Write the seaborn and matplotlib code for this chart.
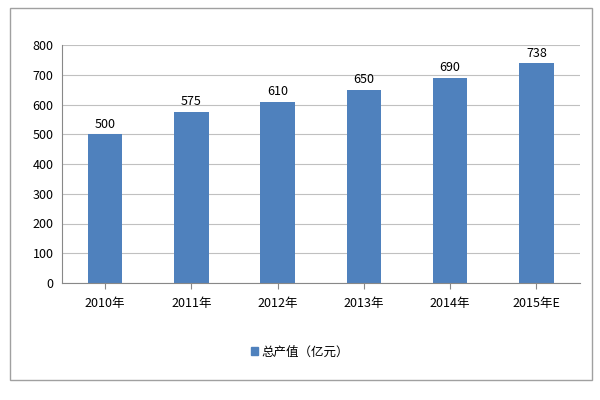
import matplotlib
matplotlib.use("Agg")
import matplotlib.pyplot as plt
import seaborn as sns
import pandas as pd
from matplotlib.patches import Rectangle

plt.rcParams["font.family"] = ["Noto Sans CJK SC", "DejaVu Sans"]

years = ["2010年", "2011年", "2012年", "2013年", "2014年", "2015年E"]
values = [500, 575, 610, 650, 690, 738]
series_name = "总产值（亿元）"

df = pd.DataFrame({"year": years, "value": values, "series": series_name})

fig = plt.figure(figsize=(6, 4), dpi=100)
fig.patches.append(Rectangle((0.017, 0.05), 0.97, 0.93, transform=fig.transFigure,
                             fill=False, edgecolor="#a0a0a0", linewidth=1))
ax = fig.add_axes([0.103, 0.2925, 0.863, 0.595])

sns.barplot(data=df, x="year", y="value", hue="series", palette=["#4f81bd"],
            width=0.4, saturation=1, ax=ax, legend=False)

ax.set_ylim(0, 800)
ax.set_yticks(range(0, 801, 100))
ax.yaxis.grid(True, color="#c0c0c0", linewidth=0.8)
ax.set_axisbelow(True)
for s in ["top", "right"]:
    ax.spines[s].set_visible(False)
ax.spines["left"].set_color("#888888")
ax.spines["bottom"].set_color("#888888")
ax.tick_params(axis="both", labelsize=9, length=0, pad=6)
ax.tick_params(axis="x", length=4, color="#888888")
ax.set_xlabel("")
ax.set_ylabel("")

for i, v in enumerate(values):
    ax.text(i, v + 12, str(v), ha="center", va="bottom", fontsize=9)

fig.legend(handles=[Rectangle((0, 0), 1, 1, color="#4f81bd")], labels=[series_name],
           loc="center", bbox_to_anchor=(0.5, 0.12), frameon=False, fontsize=9,
           handlelength=0.6, handleheight=0.6, handletextpad=0.3)

fig.savefig("out.png", dpi=100)
